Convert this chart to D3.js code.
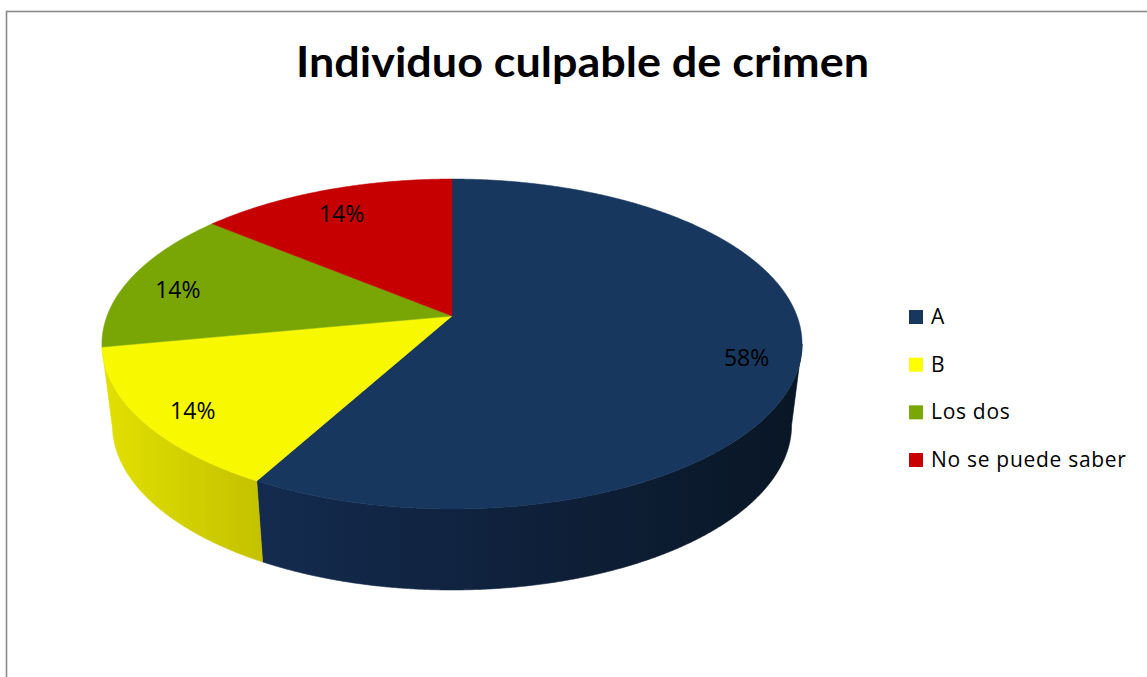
<!DOCTYPE html>
<html>
<head>
<meta charset="utf-8">
<script src="https://cdn.jsdelivr.net/npm/d3@7"></script>
<style>
  body { margin: 0; background: #fff; }
  svg { display: block; }
</style>
</head>
<body>
<svg id="chart" width="1147" height="677"></svg>
<script>
const title = "Individuo culpable de crimen";
const categories = ["A", "B", "Los dos", "No se puede saber"];
const values = [58, 14, 14, 14];
const labels = ["58%", "14%", "14%", "14%"];
const topColors = ["#17375e", "#f8f800", "#79a605", "#c60000"];
const sideColors = [["#142b4f", "#091625"], ["#e2e000", "#c4c100"], ["#5e8404", "#5e8404"], ["#9a0000", "#9a0000"]];
const legendColors = ["#17375e", "#ffff00", "#7aa706", "#c80000"];

const svg = d3.select("#chart");

// frame, cut off at right and bottom like the reference
svg.append("rect")
    .attr("x", 6.5).attr("y", 11.5)
    .attr("width", 1300).attr("height", 900)
    .attr("fill", "none")
    .attr("stroke", "#8a8a8a")
    .attr("stroke-width", 1.6);

svg.append("text")
    .attr("x", 296).attr("y", 77)
    .attr("textLength", 573)
    .attr("lengthAdjust", "spacingAndGlyphs")
    .attr("font-family", "Lato, 'Open Sans', sans-serif")
    .attr("font-weight", "bold")
    .attr("font-size", 42)
    .attr("fill", "#000")
    .text(title);

// 3d pie: projected disc, top face + side band
const cx = 452, cy = 316, rx = 345, persp = 0.1697, ny = 106.6;
const depth = 81, shrink = 0.97;

function proj(a, r, bottom) {
    const s = Math.sin(a) * r, c = Math.cos(a) * r;
    const den = 1 + persp * c;
    let x = cx + rx * s / den;
    let y = (cy - ny * c) / den;
    if (bottom) {
        x = cx + (x - cx) * shrink;
        y += depth;
    }
    return [x, y];
}

function arcPoints(a0, a1, bottom) {
    const n = Math.max(2, Math.ceil(Math.abs(a1 - a0) / 0.005));
    return d3.range(n + 1).map(i => proj(a0 + (a1 - a0) * i / n, 1, bottom));
}

const line = d3.line();
const pie = d3.pie().sort(null).value(d => d);
const slices = pie(values);

const defs = svg.append("defs");
const visA = Math.acos(-persp), visB = 2 * Math.PI - Math.acos(-persp);

const gSide = svg.append("g");
slices.forEach((s, i) => {
    const a0 = Math.max(s.startAngle, visA), a1 = Math.min(s.endAngle, visB);
    if (a1 - a0 < 0.03) return;  // slivers at the silhouette are not visible
    const pts = arcPoints(a0, a1, false).concat(arcPoints(a1, a0, true));
    const xs = d3.extent(pts, p => p[0]);
    const gid = "side" + i;
    const grad = defs.append("linearGradient")
        .attr("id", gid)
        .attr("gradientUnits", "userSpaceOnUse")
        .attr("x1", xs[0]).attr("x2", xs[1])
        .attr("y1", 0).attr("y2", 0);
    grad.append("stop").attr("offset", 0).attr("stop-color", sideColors[i][0]);
    grad.append("stop").attr("offset", 1).attr("stop-color", sideColors[i][1]);
    gSide.append("path")
        .attr("d", line(pts) + "Z")
        .attr("fill", "url(#" + gid + ")")
        .attr("stroke", "url(#" + gid + ")")
        .attr("stroke-width", 0.6);
});

const gTop = svg.append("g");
slices.forEach((s, i) => {
    const pts = [[cx, cy]].concat(arcPoints(s.startAngle, s.endAngle, false));
    gTop.append("path")
        .attr("d", line(pts) + "Z")
        .attr("fill", topColors[i])
        .attr("stroke", topColors[i])
        .attr("stroke-width", 0.5);
});

// data labels
svg.append("g").selectAll("text")
    .data(slices)
    .join("text")
    .attr("transform", d => {
        const p = proj((d.startAngle + d.endAngle) / 2, 0.85, false);
        return "translate(" + p[0] + "," + (p[1] + 7) + ")";
    })
    .attr("dy", "0.35em")
    .attr("text-anchor", "middle")
    .attr("font-family", "'Open Sans', sans-serif")
    .attr("font-size", 23)
    .attr("fill", "#000")
    .text((d, i) => labels[i]);

// legend
const ly = d3.scalePoint().domain(categories).range([324, 467]);
const leg = svg.append("g").selectAll("g")
    .data(categories)
    .join("g")
    .attr("transform", d => "translate(909," + ly(d) + ")");
leg.append("rect")
    .attr("x", 0).attr("y", -14)
    .attr("width", 14).attr("height", 14)
    .attr("fill", (d, i) => legendColors[i]);
leg.append("text")
    .attr("x", 22).attr("y", 0)
    .attr("font-family", "'Open Sans', sans-serif")
    .attr("font-size", 21)
    .attr("letter-spacing", 0.7)
    .attr("fill", "#000")
    .text(d => d);
</script>
</body>
</html>
